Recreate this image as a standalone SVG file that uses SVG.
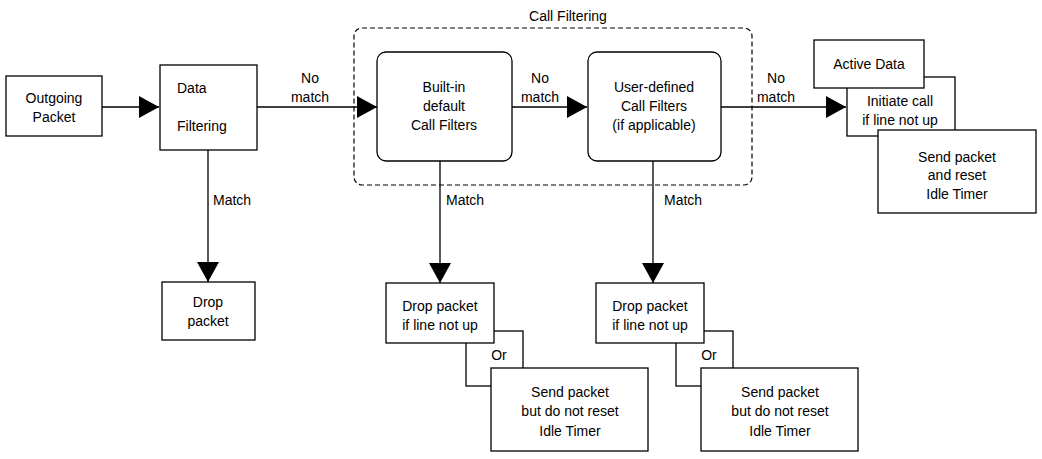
<svg xmlns="http://www.w3.org/2000/svg" width="1042" height="459" viewBox="0 0 1042 459">
<style>
text{font-family:"Liberation Sans",Arial,sans-serif;font-size:14px;fill:#000;text-anchor:middle}
.b{fill:#fff;stroke:#000;stroke-width:1.3}
.l{stroke:#000;stroke-width:1.3;fill:none}
.s{text-anchor:start}
</style>
<defs><marker id="a" markerWidth="20" markerHeight="22" refX="20" refY="11" orient="auto" markerUnits="userSpaceOnUse"><path d="M0,0 L20,11 L0,22 Z" fill="#000"/></marker></defs>
<rect x="0" y="0" width="1042" height="459" fill="#fff"/>
<g id="callfiltering">
<rect x="354" y="28" width="398" height="157" rx="8" fill="none" stroke="#000" stroke-width="1.2" stroke-dasharray="5,3"/>
<text x="568" y="21">Call Filtering</text>
</g>
<g id="connectors">
<line class="l" x1="102" y1="107" x2="159" y2="107" marker-end="url(#a)"/>
<line class="l" x1="257" y1="107" x2="377" y2="107" marker-end="url(#a)"/>
<line class="l" x1="512" y1="107" x2="587" y2="107" marker-end="url(#a)"/>
<line class="l" x1="721" y1="107" x2="846" y2="107" marker-end="url(#a)"/>
<line class="l" x1="208" y1="150" x2="208" y2="282" marker-end="url(#a)"/>
<line class="l" x1="440" y1="161" x2="440" y2="283" marker-end="url(#a)"/>
<line class="l" x1="653" y1="161" x2="653" y2="283" marker-end="url(#a)"/>
<text x="310" y="83">No</text><text x="310" y="102">match</text>
<text x="540" y="83">No</text><text x="540" y="102">match</text>
<text x="776" y="83">No</text><text x="776" y="102">match</text>
<text class="s" x="213" y="205">Match</text>
<text class="s" x="446" y="205">Match</text>
<text class="s" x="664" y="205">Match</text>
</g>
<g id="outgoing"><rect class="b" x="6" y="76" width="96" height="60"/><text x="54" y="103">Outgoing</text><text x="54" y="122">Packet</text></g>
<g id="datafiltering"><rect class="b" x="160" y="65" width="97" height="85"/><text class="s" x="177" y="93">Data</text><text class="s" x="177" y="131">Filtering</text></g>
<g id="builtin"><rect class="b" x="377" y="52" width="135" height="109" rx="9"/><text x="444" y="92">Built-in</text><text x="444" y="111">default</text><text x="444" y="130">Call Filters</text></g>
<g id="userdefined"><rect class="b" x="588" y="52" width="133" height="109" rx="9"/><text x="654" y="92">User-defined</text><text x="654" y="111">Call Filters</text><text x="654" y="130">(if applicable)</text></g>
<g id="dropsimple"><rect class="b" x="162" y="282" width="93" height="58"/><text x="208" y="307">Drop</text><text x="208" y="326">packet</text></g>
<g id="activedata">
<rect class="b" x="847" y="77" width="108" height="59"/>
<rect class="b" x="814" y="40" width="110" height="48"/>
<text x="869" y="69">Active Data</text>
<text x="900" y="106">Initiate call</text><text x="900" y="125">if line not up</text>
<rect class="b" x="878" y="130" width="158" height="83"/>
<text x="957" y="162">Send packet</text><text x="957" y="180">and reset</text><text x="957" y="199">Idle Timer</text>
</g>
<g id="branch1">
<rect class="b" x="466" y="331" width="57" height="55"/>
<rect class="b" x="386" y="283" width="108" height="60"/>
<text x="440" y="311">Drop packet</text><text x="440" y="330">if line not up</text>
<text x="499" y="360">Or</text>
<rect class="b" x="491" y="368" width="157" height="83"/>
<text x="570" y="397">Send packet</text><text x="570" y="416">but do not reset</text><text x="570" y="436">Idle Timer</text>
</g>
<g id="branch2">
<rect class="b" x="676" y="331" width="57" height="55"/>
<rect class="b" x="596" y="283" width="108" height="60"/>
<text x="650" y="311">Drop packet</text><text x="650" y="330">if line not up</text>
<text x="709" y="360">Or</text>
<rect class="b" x="701" y="368" width="157" height="83"/>
<text x="780" y="397">Send packet</text><text x="780" y="416">but do not reset</text><text x="780" y="436">Idle Timer</text>
</g>
</svg>
